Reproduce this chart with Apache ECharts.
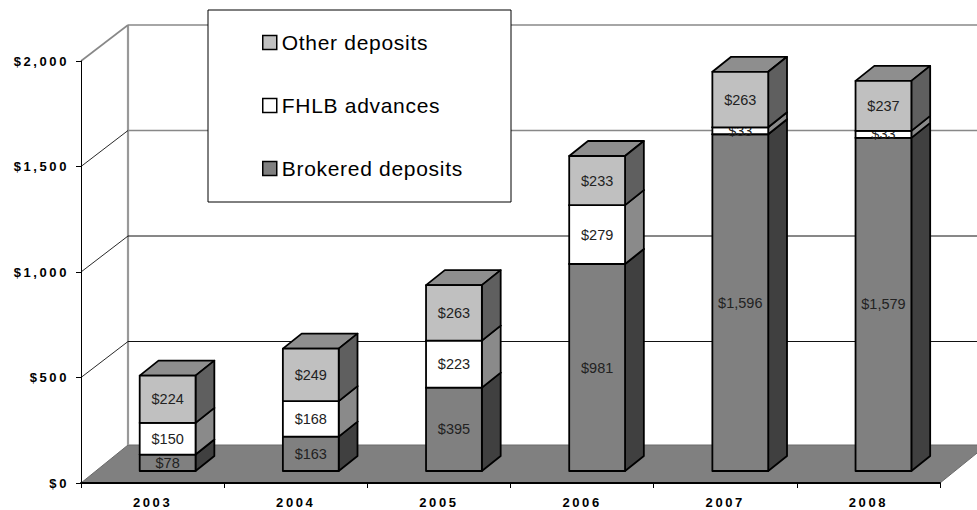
<!DOCTYPE html>
<html><head><meta charset="utf-8">
<script src="https://cdn.jsdelivr.net/npm/echarts@6/dist/echarts.min.js"></script>
<style>
html,body{margin:0;padding:0;background:#fff;}
#chart{width:977px;height:510px;}
#chart text[style*="bold"]{letter-spacing:2.6px;}
#chart text[style*="21px"]{letter-spacing:0.7px;}
</style></head><body><div id="chart"></div>
<script>
// ---- data ----
const categories = ['2003', '2004', '2005', '2006', '2007', '2008'];
const brokered = [78, 163, 395, 981, 1596, 1579];
const fhlb = [150, 168, 223, 279, 33, 33];
const other = [224, 249, 263, 233, 263, 237];
const yTicks = [0, 500, 1000, 1500, 2000];
const seriesNames = ['Brokered deposits', 'FHLB advances', 'Other deposits'];
const legendOrder = ['Other deposits', 'FHLB advances', 'Brokered deposits'];

// ---- 3D look (style only) ----
const DX = 47, DY = -36;         // depth of whole plot
const F0 = 0.32, F1 = 0.72;      // bar front / back depth fraction
const BAR_W = 0.39;              // bar width as fraction of band
const palette = [
  {front: '#808080', side: '#404040', top: '#6a6a6a'},
  {front: '#ffffff', side: '#8a8a8a', top: '#bdbdbd'},
  {front: '#c0c0c0', side: '#5f5f5f', top: '#8e8e8e'}
];
const fmt = v => '$' + v.toLocaleString('en-US');

const stacks = [brokered, fhlb, other];
const bases = stacks.map((s, k) => s.map((_, i) => {
  let b = 0; for (let j = 0; j < k; j++) b += stacks[j][i]; return b;
}));

function segmentSeries(k) {
  const col = palette[k];
  return {
    type: 'custom', name: seriesNames[k], coordinateSystem: 'cartesian2d', z: 3,
    itemStyle: {color: col.front, borderColor: '#000', borderWidth: 1.5},
    data: stacks[k].map((v, i) => [i, bases[k][i], bases[k][i] + v, v]),
    encode: {x: 0, y: [1, 2]},
    renderItem(params, api) {
      const i = api.value(0), b = api.value(1), t = api.value(2), v = api.value(3);
      const p0 = api.coord([i, b]), p1 = api.coord([i, t]);
      const band = api.size([1, 0])[0];
      const w = band * BAR_W;
      const fx = DX * F0, fy = -12, bx = DX * (F1 - F0), by = -15;
      const l = p0[0] + fx - w / 2, r = l + w, yb = p0[1] + fy, yt = p1[1] + fy;
      const line = {stroke: '#000', lineWidth: 1.8, lineJoin: 'round'};
      return {
        type: 'group',
        children: [
          {type: 'polygon', shape: {points: [[l, yt], [r, yt], [r + bx, yt + by], [l + bx, yt + by]]},
           style: Object.assign({fill: col.top}, line)},
          {type: 'polygon', shape: {points: [[r, yb], [r + bx, yb + by], [r + bx, yt + by], [r, yt]]},
           style: Object.assign({fill: col.side}, line)},
          {type: 'rect', shape: {x: l, y: yt, width: w, height: yb - yt},
           style: Object.assign({fill: col.front}, line)},
          {type: 'text', x: (l + r) / 2, y: (yt + yb) / 2,
           style: {text: fmt(v), fill: '#222', font: '14.5px "Liberation Sans", Arial, sans-serif',
                   align: 'center', verticalAlign: 'middle'}}
        ]
      };
    }
  };
}

const wallSeries = {
  type: 'custom', name: 'walls', coordinateSystem: 'cartesian2d', z: 1, silent: true,
  data: yTicks.map(t => [0, t]),
  encode: {x: 0, y: 1},
  renderItem(params, api) {
    const cs = params.coordSys;
    const x0 = cs.x, x1 = cs.x + cs.width;
    const t = api.value(1);
    const y = api.coord([0, t])[1];
    const dy = t === 0 ? -38 : DY;
    const upper = t >= 1500;
    const ls = {stroke: upper ? '#888' : '#111', lineWidth: upper ? 1.6 : 1};
    const children = [];
    if (t === 0) {
      const yTop = api.coord([0, yTicks[yTicks.length - 1]])[1];
      children.push({type: 'polygon',
        shape: {points: [[x0, y], [x1, y], [x1 + DX, y + dy], [x0 + DX, y + dy]]},
        style: {fill: '#808080', stroke: '#6a6a6a', lineWidth: 1}});
      children.push({type: 'line', shape: {x1: x0 + DX, y1: y + dy, x2: x0 + DX, y2: yTop + DY},
        style: {stroke: '#999', lineWidth: 2.2}});
    } else {
      children.push({type: 'line', shape: {x1: x0, y1: y, x2: x0 + DX, y2: y + DY},
        style: {stroke: t === 2000 ? '#888' : '#111', lineWidth: t === 2000 ? 1.6 : 0.9}});
      children.push({type: 'line', shape: {x1: x0 + DX, y1: y + DY, x2: x1 + DX, y2: y + DY}, style: ls});
    }
    return {type: 'group', children};
  }
};

const chart = echarts.init(document.getElementById('chart'), null, {renderer: 'svg'});
chart.setOption({
  animation: false,
  backgroundColor: '#fff',
  grid: {left: 81, right: 37, top: 61, bottom: 27, containLabel: false},
  legend: {
    data: legendOrder, orient: 'vertical', left: 208, top: 10,
    padding: [22, 60, 23, 54], itemGap: 42, itemWidth: 14, itemHeight: 14,
    icon: 'rect', selectedMode: false,
    backgroundColor: '#fff', borderColor: '#000', borderWidth: 1,
    itemStyle: {borderColor: '#000', borderWidth: 1.5},
    textStyle: {fontSize: 21, lineHeight: 21, fontFamily: '"Liberation Sans", Arial, sans-serif', color: '#000'}
  },
  xAxis: {
    type: 'category', data: categories, z: 4,
    axisLine: {show: true, lineStyle: {color: '#000', width: 2}},
    axisTick: {show: true, length: 5, lineStyle: {color: '#000', width: 1}},
    axisLabel: {color: '#000', fontWeight: 'bold', fontSize: 13, margin: 13,
                fontFamily: '"Liberation Sans", Arial, sans-serif'},
    splitLine: {show: false}
  },
  yAxis: {
    type: 'value', min: 0, max: 2000, interval: 500, z: 4,
    axisLine: {show: true, lineStyle: {color: '#000', width: 1}},
    axisTick: {show: true, length: 5, lineStyle: {color: '#000', width: 1}},
    axisLabel: {color: '#000', fontWeight: 'bold', fontSize: 13, margin: 12,
                fontFamily: '"Liberation Sans", Arial, sans-serif', formatter: fmt},
    splitLine: {show: false}
  },
  series: [wallSeries, segmentSeries(0), segmentSeries(1), segmentSeries(2)]
});
</script></body></html>
